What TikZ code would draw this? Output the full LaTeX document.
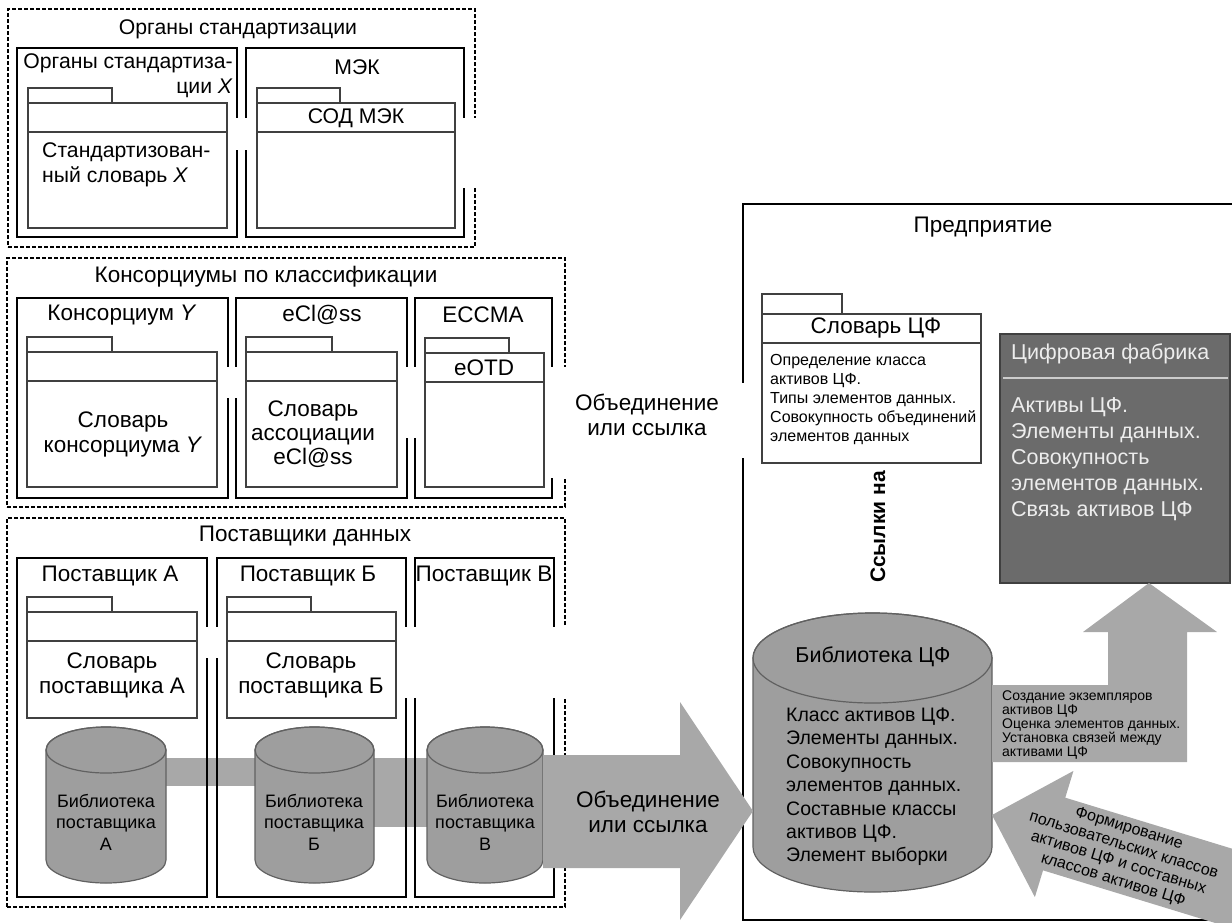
\documentclass[tikz,border=0pt]{standalone}
\usepackage{fontspec}
\setmainfont{Liberation Sans}
\usetikzlibrary{backgrounds}

\newcommand\dbcyl[6]{%
    \filldraw[db] (#2-#5,#3+#6) -- (#2-#5,#4-#6)
        arc[start angle=180, end angle=0, x radius=#5, y radius=#6]
        -- (#2+#5,#3+#6)
        arc[start angle=0, end angle=-180, x radius=#5, y radius=#6] -- cycle;
    \draw[db, fill=none] (#2,#3+#6) ellipse [x radius=#5, y radius=#6];
    \path (#2,{(#3+#4)/2}) node (#1) [inner sep=0pt, outer sep=0pt, minimum width={2pt*#5}, minimum height={1pt*(#4-#3)}] {};
}

\begin{document}
\begin{tikzpicture}[x=1pt, y=-1pt,
        grp/.style={draw, line width=1.2pt, dash pattern=on 4pt off 2pt, inner sep=0pt, outer sep=0pt},
        org/.style={draw, line width=1.8pt, inner sep=0pt, outer sep=0pt},
        pkgbody/.style={draw=black!75, fill=white, line width=1.2pt, inner sep=0pt, outer sep=0pt},
        pkg/.style={draw=black!75, line width=1.2pt},
        gap/.style={fill=white},
        flow/.style={fill=black!34},
        db/.style={draw=black!62, fill=black!38, line width=1.2pt},
        txt/.style={font=\fontsize{22.5}{25}\selectfont, align=center, inner sep=0pt},
        toptxt/.style={txt, font=\fontsize{21.2}{25}\selectfont},
        dbtxt/.style={font=\fontsize{18}{21.5}\selectfont, align=center, inner sep=0pt},
        note/.style={font=\fontsize{16}{19}\selectfont, align=left, anchor=west, inner sep=0pt}]
    \useasboundingbox (0,0) rectangle (1232,922);
    \clip (0,0) rectangle (1232,922);

    \draw
        (241.5,128) node (std) [grp, minimum width=467pt, minimum height=238pt] {}
        (286,382.5) node (cons) [grp, minimum width=558pt, minimum height=249pt] {}
        (286,712.5) node (supp) [grp, minimum width=558pt, minimum height=389pt] {}

        (127,142.5) node (stdX) [org, minimum width=220pt, minimum height=189pt] {}
        (355,142.5) node (iec) [org, minimum width=218pt, minimum height=189pt] {}
        (122.5,398) node (consY) [org, minimum width=211pt, minimum height=200pt] {}
        (321.5,398) node (eclass) [org, minimum width=171pt, minimum height=200pt] {}
        (483.5,398) node (eccma) [org, minimum width=137pt, minimum height=200pt] {}
        (112,727.5) node (suppA) [org, minimum width=190pt, minimum height=339pt] {}
        (311.5,727.5) node (suppB) [org, minimum width=189pt, minimum height=339pt] {}
        (484.5,727.5) node (suppC) [org, minimum width=139pt, minimum height=339pt] {}

        (127.5,165.5) node (p11) [pkgbody, minimum width=199pt, minimum height=125pt] {}
        (356,165.5) node (p12) [pkgbody, minimum width=198pt, minimum height=125pt] {}
        (122,419.5) node (p21) [pkgbody, minimum width=190pt, minimum height=135pt] {}
        (321.5,419.5) node (p22) [pkgbody, minimum width=151pt, minimum height=135pt] {}
        (484.5,420) node (p23) [pkgbody, minimum width=119pt, minimum height=134pt] {}
        (112,665) node (p31) [pkgbody, minimum width=170pt, minimum height=106pt] {}
        (311.5,665) node (p32) [pkgbody, minimum width=169pt, minimum height=106pt] {}
    ;
    \foreach \p/\w in {p11/84, p12/83, p21/85, p22/86, p23/84, p31/85, p32/84}
        \draw[pkg] (\p.north west) rectangle ++(\w,-15)
            ([yshift=-29pt]\p.north west) -- ([yshift=-29pt]\p.north east);

    \dbcyl{libA}{106}{727}{883}{60}{23}
    \dbcyl{libB}{314.5}{727}{883}{59.5}{23}
    \dbcyl{libC}{485}{727}{883}{58}{23}
    \begin{pgfonlayer}{background}
        \fill[flow] (libA.center |- 0,758) rectangle (libB.center |- 0,786);
        \fill[flow] (libB.center |- 0,758) rectangle (libC.center |- 0,827);
    \end{pgfonlayer}

    \fill[gap] (231,118) rectangle (252,150);
    \fill[gap] (459,118) rectangle (481,188);
    \fill[gap] (222,367) rectangle (242,398);
    \fill[gap] (401,367) rectangle (421,438);
    \fill[gap] (546,367) rectangle (571,478);
    \fill[gap] (201,627) rectangle (223,658);
    \fill[gap] (400,627) rectangle (421,698);
    \fill[gap] (548,627) rectangle (571,698);

    \draw
        (991.5,562) node (ent) [draw, line width=1.5pt, inner sep=0pt, minimum width=497pt, minimum height=716pt] {}
        (871.5,388.5) node (pCF) [pkgbody, minimum width=219pt, minimum height=149pt] {}
        (1115,458.5) node (fab) [draw=black!75, fill=black!58, line width=1.2pt, inner sep=0pt, outer sep=0pt, minimum width=230pt, minimum height=249pt] {}
    ;
    \dbcyl{libCF}{872.5}{613}{892}{119.5}{45}
    \draw[pkg] (pCF.north west) rectangle ++(80,-20)
        ([yshift=-29pt]pCF.north west) -- ([yshift=-29pt]pCF.north east);
    \draw[black!20, line width=1.5pt] (1003,378) -- (1228,378);
    \fill[gap] (737,383) rectangle (749,458);

    \fill[flow] (libC.east |- 0,755) -- (680,755) -- (680,702) -- (libCF.west |- 0,811)
        -- (680,920) -- (680,868) -- (libC.east |- 0,868) -- cycle;
    \fill[flow] (libCF.east |- 0,685) -- (1108,685) -- (1108,632) -- (1083,632) -- (fab.south -| 1149,0)
        -- (1217,632) -- (1187,632) -- (1187,762) -- (libCF.east |- 0,762) -- cycle;
    \begin{scope}[shift={(libCF.east |- 0,815)}, rotate=-17]
        \fill[flow] (0,0) -- (65,-66) -- (65,-38) -- (340,-38) -- (340,38) -- (65,38) -- (65,66) -- cycle;
        \node (userT) [font=\fontsize{16}{18}\selectfont, align=center, inner sep=0pt, rotate=-17] at (135,0)
            {Формирование\\пользовательских классов\\активов ЦФ и составных\\классов активов ЦФ};
    \end{scope}

    \draw
        (238,29) node (stdT) [toptxt] {Органы стандартизации}
        (233,76) node (stdXT) [toptxt, anchor=east, align=right] {Органы стандартиза-\\ции \textit{X}}
        (42,165) node (dictX) [toptxt, anchor=west, align=left] {Стандартизован-\\ный словарь \textit{X}}
        (357,67) node (iecT) [toptxt] {МЭК}
        (356,118) node (iecD) [toptxt] {СОД МЭК}

        (266,277) node (consT) [txt] {Консорциумы по классификации}
        (122,315) node (consYT) [txt] {Консорциум \textit{Y}}
        (123,434) node (dictY) [txt] {Словарь\\консорциума \textit{Y}}
        (322,315) node (eclassT) [txt] {eCl@ss}
        (313,434) node (dictE) [txt, font=\fontsize{22.5}{24}\selectfont] {Словарь\\ассоциации\\eCl@ss}
        (483,315) node (eccmaT) [txt] {ECCMA}
        (484,368) node (eotd) [txt] {eOTD}

        (305,536) node (suppT) [txt] {Поставщики данных}
        (110,576) node (suppAT) [txt] {Поставщик А}
        (308,576) node (suppBT) [txt] {Поставщик Б}
        (484,576) node (suppCT) [txt] {Поставщик В}
        (112,675) node (dictA) [txt] {Словарь\\поставщика А}
        (311,675) node (dictB) [txt] {Словарь\\поставщика Б}
        (106,822) node (libAT) [dbtxt] {Библиотека\\поставщика\\А}
        (314,822) node (libBT) [dbtxt] {Библиотека\\поставщика\\Б}
        (485,822) node (libCT) [dbtxt] {Библиотека\\поставщика\\В}

        (647,415) node (linkT) [txt] {Объединение\\или ссылка}
        (648,812) node (mergeT) [txt] {Объединение\\или ссылка}

        (983,227) node (entT) [txt] {Предприятие}
        (876,328) node (pCFT) [txt] {Словарь ЦФ}
        (770,399) node (pCFD) [note] {Определение класса\\активов ЦФ.\\Типы элементов данных.\\Совокупность объединений\\элементов данных}
        (878,527) node (refT) [txt, font=\fontsize{21}{24}\selectfont\bfseries, rotate=90] {Ссылки на}
        (1011,354) node (fabT) [txt, anchor=west, text=black!7, font=\fontsize{21.5}{26}\selectfont] {Цифровая фабрика}
        (1011,459) node (fabD) [txt, anchor=west, align=left, text=black!7, font=\fontsize{21.5}{26}\selectfont] {Активы ЦФ.\\Элементы данных.\\Совокупность\\элементов данных.\\Связь активов ЦФ}
        (873,657) node (libCFT) [txt, font=\fontsize{21.5}{25}\selectfont] {Библиотека ЦФ}
        (786,787) node (libCFD) [txt, anchor=west, align=left, font=\fontsize{19.5}{23.4}\selectfont] {Класс активов ЦФ.\\Элементы данных.\\Совокупность\\элементов данных.\\Составные классы\\активов ЦФ.\\Элемент выборки}
        (1002,725) node (instT) [anchor=west, align=left, inner sep=0pt, font=\fontsize{14}{14}\selectfont] {Создание экземпляров\\активов ЦФ\\Оценка элементов данных.\\Установка связей между\\активами ЦФ}
    ;
\end{tikzpicture}
\end{document}
